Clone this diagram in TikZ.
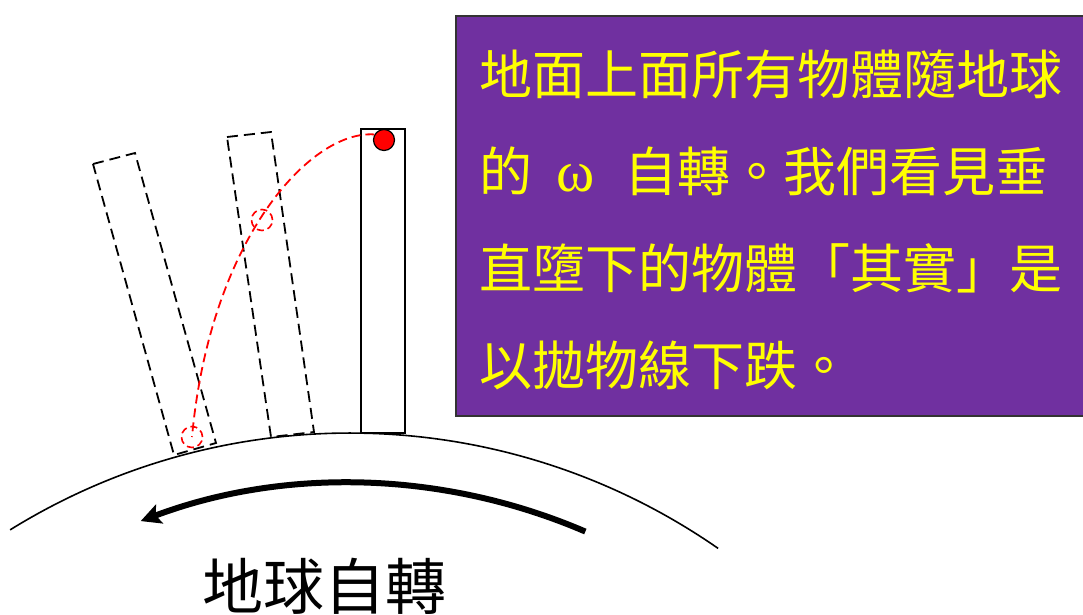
\documentclass[tikz,border=0pt]{standalone}
\usepackage{fontspec}
\newfontfamily\cjk{Noto Sans CJK TC}
\newfontfamily\greek{Liberation Serif}
\usetikzlibrary{arrows.meta}

\definecolor{boxpurple}{RGB}{112,48,160}
\definecolor{boxyellow}{RGB}{255,255,0}

\begin{document}
\begin{tikzpicture}[
  x=1pt, y=-1pt,
  tower/.style={draw=black, line width=1.8pt, rectangle, inner sep=0pt,
    minimum width=44pt, minimum height=304pt},
  ghost/.style={draw=black, line width=1.8pt, dash pattern=on 11pt off 6pt},
  ball/.style={circle, draw=black, line width=1.2pt, fill=red,
    minimum size=21pt, inner sep=0pt},
  ghostball/.style={circle, draw=red, line width=1.6pt,
    dash pattern=on 7pt off 4pt, minimum size=21pt, inner sep=0pt},
  path/.style={draw=red, line width=1.8pt, dash pattern=on 9pt off 5pt},
  ground/.style={line width=1.6pt},
  spin/.style={line width=6pt, -{Stealth[length=20pt, width=20pt, inset=4pt]}},
  infobox/.style={rectangle, draw=black!80, line width=2pt, fill=boxpurple,
    minimum width=632pt, minimum height=400pt, inner sep=0pt},
  infotext/.style={text=boxyellow, align=left, inner sep=0pt,
    font=\cjk\fontsize{53}{97}\selectfont},
  caption/.style={inner sep=0pt, font=\cjk\fontsize{61}{63}\selectfont},
]
\useasboundingbox (0,0) rectangle (1083,615);

% earth surface and its spin
\coordinate (earth) at (350,1078);
\draw[ground] (earth) ++(-121.8:645) arc[start angle=-121.8, end angle=-55.2, radius=645];
\draw[spin] (earth) ++(-66.7:595) arc[start angle=-66.7, end angle=-110.6, radius=595];
\node[caption, anchor=base] (spinlabel) at (324,609) {地球自轉};

% tower as it turns with the earth (dashed)
\draw[ghost] (93,164) -- (135,153) -- (216,443) -- (174,455) -- cycle;
\draw[ghost] (227,137) -- (271,132) -- (314,432) -- (271,437) -- cycle;

% tower now, with the ball on top
\node[tower] (tower) at (383,281) {};
\node[ball] (ball) at (384,140) {};

% where the ball is seen on the way down
\node[ghostball] (mid)  at (262,220) {};
\node[ghostball] (land) at (192,437) {};
\draw[path] (ball.150) .. controls (310,130) and (210,240) .. (land.center);

% explanation box (last line sits on the base anchor)
\node[infobox, anchor=north west] (info) at (455,15) {};
\node[infotext, anchor=base west] (msg) at (479,385)
  {地面上面所有物體隨地球\\
   的\hspace{24pt}{\greek\fontsize{58}{97}\selectfont ω}\hspace{30pt}自轉。我們看見垂\\
   直墮下的物體「其實」是\\
   以拋物線下跌。};

\end{tikzpicture}
\end{document}
